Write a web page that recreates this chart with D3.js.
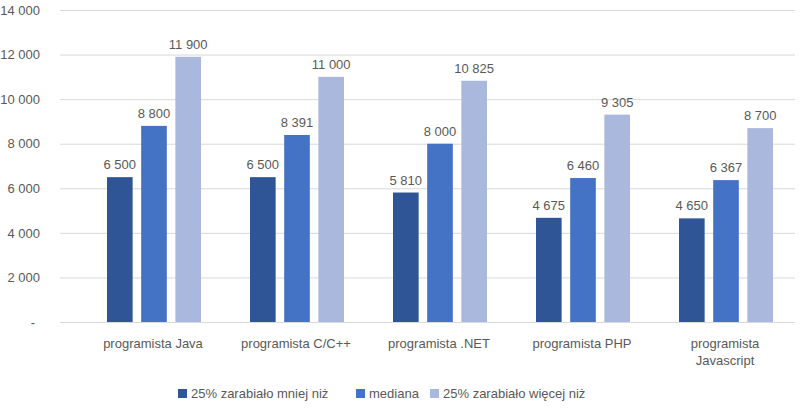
<!DOCTYPE html>
<html><head><meta charset="utf-8">
<script src="https://cdn.jsdelivr.net/npm/d3@7"></script>
<style>body{margin:0;background:#fff}text{font-family:"Liberation Sans",Arial,sans-serif;fill:#595959}</style>
</head><body><svg id="c" width="800" height="414"></svg>
<script>
var categories = [["programista Java"],["programista C/C++"],["programista .NET"],["programista PHP"],["programista","Javascript"]];
var seriesNames = ["25% zarabiało mniej niż","mediana","25% zarabiało więcej niż"];
var colors = ["#2F5597","#4472C4","#A9B8DC"];
var low = [6500,6500,5810,4675,4650];
var median = [8800,8391,8000,6460,6367];
var high = [11900,11000,10825,9305,8700];
var ticks = [0,2000,4000,6000,8000,10000,12000,14000];

var svg = d3.select("#c");
var y = d3.scaleLinear().domain([0,14000]).range([322,10]);
var x = d3.scaleBand().domain(d3.range(5)).range([81,796]);
var xs = d3.scaleBand().domain(d3.range(3)).range([26,120]).paddingInner(0.25);
var fmt = function(v){ return v==0 ? "-" : d3.format(",")(v).replace(/,/g," "); };

var yAxis = d3.axisLeft(y).tickValues(ticks).tickSize(-735).tickFormat(fmt);
var g = svg.append("g").attr("transform","translate(60,0)").call(yAxis);
g.select(".domain").remove();
g.selectAll(".tick line").attr("stroke","#d9d9d9");
g.selectAll(".tick text").attr("x",-20).style("font-size","13px").attr("fill","#595959");
g.selectAll(".tick").filter(function(d){return d==0;}).select("text").attr("x",-25);

var data = [low,median,high];
data.forEach(function(s,si){
  var gg = svg.append("g");
  gg.selectAll("rect").data(s).enter().append("rect")
    .attr("x",function(d,i){return x(i)+xs(si);}).attr("width",xs.bandwidth())
    .attr("y",function(d){return y(d);}).attr("height",function(d){return y(0)-y(d);})
    .attr("fill",colors[si]);
  gg.selectAll("text").data(s).enter().append("text")
    .attr("x",function(d,i){return x(i)+xs(si)+xs.bandwidth()/2;})
    .attr("y",function(d){return y(d)-8;}).attr("text-anchor","middle")
    .style("font-size","13px").text(fmt);
});

categories.forEach(function(c,i){
  var t = svg.append("text").attr("x",x(i)+72).attr("y",348).attr("text-anchor","middle").style("font-size","13px");
  c.forEach(function(l,j){ t.append("tspan").attr("x",x(i)+72).attr("dy",j?17:0).text(l); });
});

var lx = [178,356,430];
seriesNames.forEach(function(n,i){
  svg.append("rect").attr("x",lx[i]).attr("y",389).attr("width",9).attr("height",9).attr("fill",colors[i]);
  svg.append("text").attr("x",lx[i]+13).attr("y",398).style("font-size","13px").text(n);
});
</script></body></html>
